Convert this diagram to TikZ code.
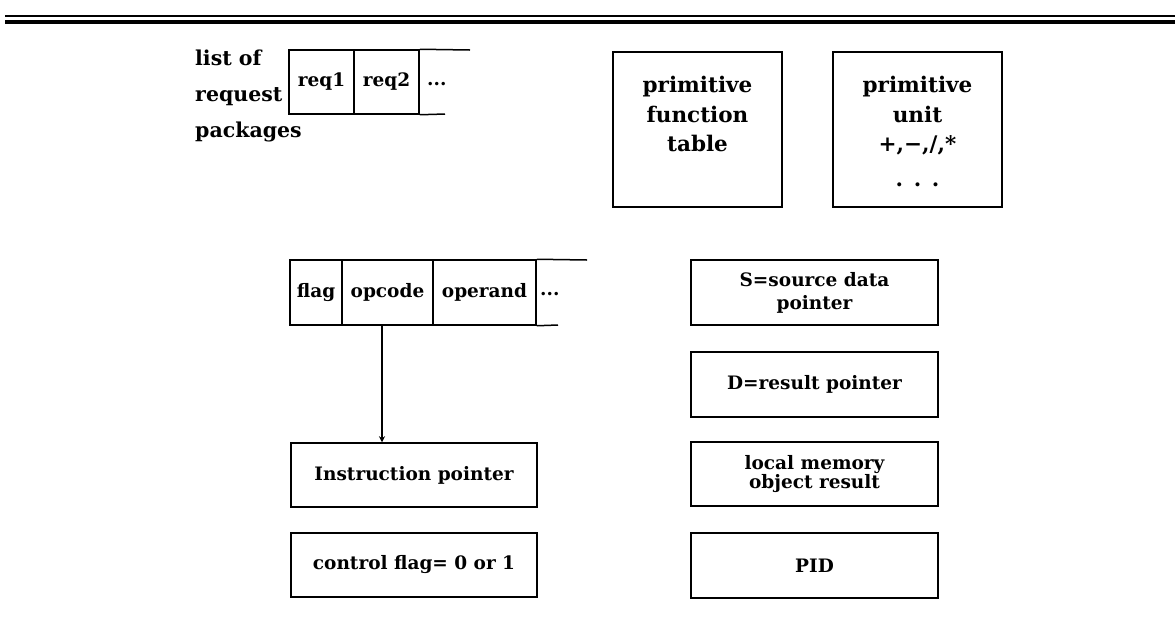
\documentclass[tikz,border=0pt]{standalone}
\usepackage{fontspec}
\setmainfont{DejaVu Serif}
\usetikzlibrary{arrows.meta}

\tikzset{
  frame/.style={draw, line width=1.5pt, inner sep=0pt, align=center},
  txt/.style={font=\bfseries\fontsize{18.5}{21}\selectfont},
  bigtxt/.style={font=\bfseries\fontsize{21.5}{29.5}\selectfont},
  regbox/.style={frame, txt, minimum width=246pt, minimum height=64pt},
  cellbox/.style={frame, txt, minimum height=64pt},
  bigbox/.style={frame, minimum width=169pt, minimum height=155pt},
  openline/.style={line width=1.5pt},
}

\begin{document}
\begin{tikzpicture}[x=1pt,y=-1pt]
\useasboundingbox (0,0) rectangle (1175,622);

% double rule across the head of the page
\draw[line width=1.8pt] (5,16) -- (1175,16);
\draw[line width=3.2pt] (5,22) -- (1175,22);

% list of request packages
\node[anchor=west, align=left, inner sep=0pt, font=\bfseries\fontsize{20.5}{36}\selectfont] (lbl) at (195,96)
  {list of\\request\\packages};
\node[cellbox, minimum width=65pt] (req1) at (321.5,82) {req1};
\node[cellbox, minimum width=65pt] (req2) at (386.5,82) {req2};
\node[txt, anchor=west, inner sep=0pt] (reqdots) at (427,84) {...};
\coordinate (reqtop) at (470,50);
\coordinate (reqbot) at (445,114);
\draw[openline] (req2.north east) -- (reqtop);
\draw[openline] (req2.south east) -- (reqbot);

% primitive function table and primitive unit
\node[bigbox] (pft) at (697.5,129.5) {};
\node[bigtxt, align=center, anchor=north, inner sep=0pt] (pftt) at (pft.north |- 0,76)
  {primitive\\function\\table};
\node[bigbox] (pu) at (917.5,129.5) {};
\node[bigtxt, align=center, anchor=north, inner sep=0pt] (put) at (pu.north |- 0,76)
  {primitive\\unit\\+,−,/,*\\[5pt].\enspace.\enspace.};

% instruction word
\node[cellbox, minimum width=52pt, minimum height=65pt] (flag) at (316,292.5) {flag};
\node[cellbox, minimum width=91pt, minimum height=65pt] (opcode) at (387.5,292.5) {opcode};
\node[cellbox, minimum width=103pt, minimum height=65pt] (operand) at (484.5,292.5) {operand};
\node[txt, anchor=west, inner sep=0pt] (insdots) at (540,294) {...};
\coordinate (instop) at (587,260);
\coordinate (insbot) at (558,325);
\draw[openline] (operand.north east) -- (instop);
\draw[openline] (operand.south east) -- (insbot);

% registers, left column
\node[regbox] (ip) at (414,475) {Instruction pointer};
\node[regbox] (cf) at (414,565) {control flag= 0 or 1};

% registers, right column
\node[regbox, minimum width=247pt, minimum height=65pt, font=\bfseries\fontsize{18.5}{23}\selectfont] (src) at (814.5,292.5) {S=source data\\pointer};
\node[regbox, minimum width=247pt, minimum height=65pt] (dst) at (814.5,384.5) {D=result pointer};
\node[regbox, minimum width=247pt, font=\bfseries\fontsize{18.5}{16}\selectfont] (loc) at (814.5,474) {local memory\\object result};
\node[regbox, minimum width=247pt, minimum height=65pt] (pid) at (814.5,565.5) {PID};

% opcode selects the instruction pointer
\draw[line width=2pt, -{Stealth[length=6pt,width=6pt]}] (opcode.south -| 382,0) -- (ip.north -| 382,0);
\end{tikzpicture}
\end{document}
